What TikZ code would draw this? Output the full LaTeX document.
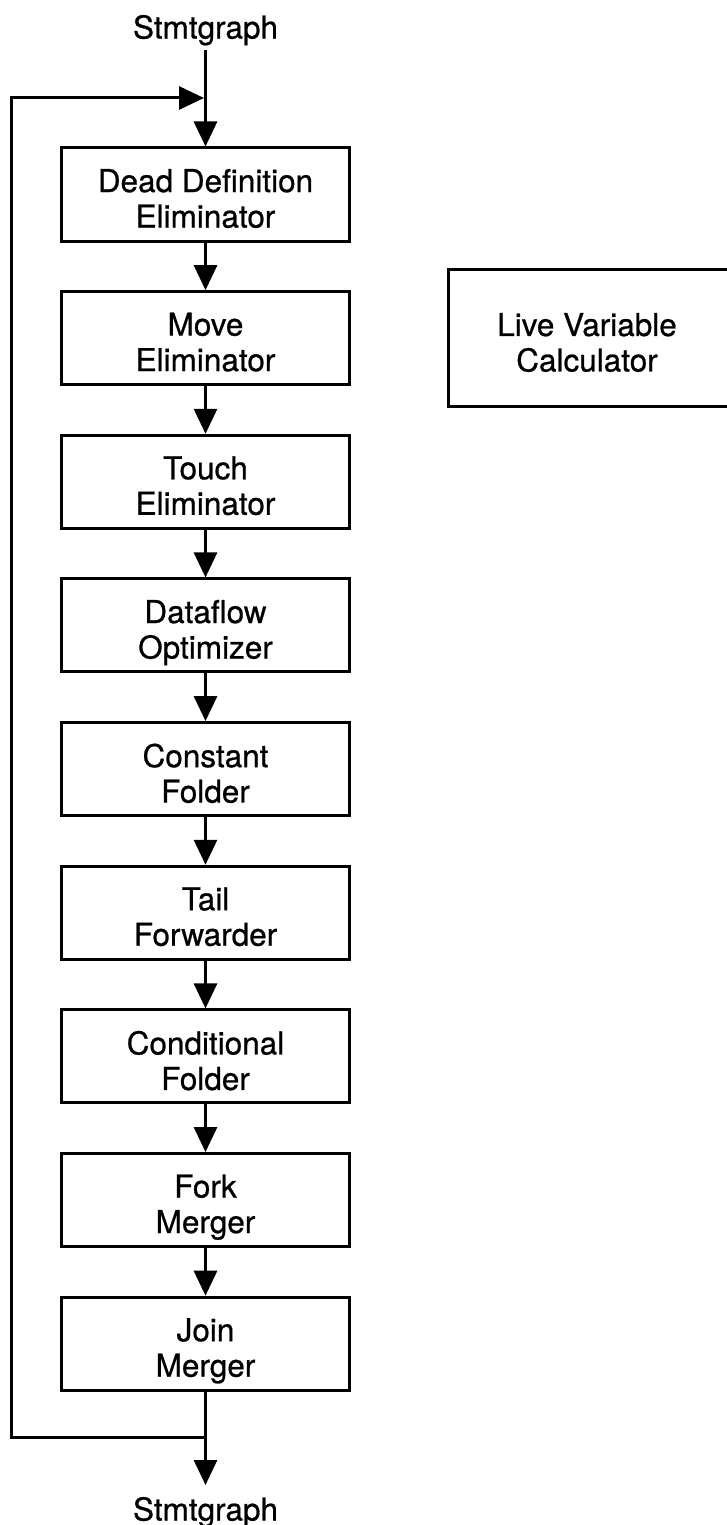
\documentclass[tikz,border=0pt]{standalone}
\usepackage{fontspec}
\setmainfont{TeX Gyre Heros}[BoldFont=TeX Gyre Heros, BoldFeatures={FakeBold=0.7}]
\usetikzlibrary{arrows.meta}
\begin{document}
\begin{tikzpicture}[x=1pt,y=-1pt,
  arr/.style={line width=3pt,-{Triangle[length=25pt,width=23pt]}},
  box/.style={draw,line width=3pt,minimum width=288pt,minimum height=93pt,inner sep=0pt},
  txt/.style={anchor=north,inner sep=0pt,outer sep=0pt,align=center,font=\fontsize{31.5}{35.5}\selectfont\bfseries},
]
\useasboundingbox (0,0) rectangle (727,1525);

\node[box] (b1) at (205.5,194.5) {};
\node[box] (b2) at (205.5,338.15) {};
\node[box] (b3) at (205.5,481.8) {};
\node[box] (b4) at (205.5,625.45) {};
\node[box] (b5) at (205.5,769.1) {};
\node[box] (b6) at (205.5,912.75) {};
\node[box] (b7) at (205.5,1056.4) {};
\node[box] (b8) at (205.5,1200.05) {};
\node[box] (b9) at (205.5,1343.7) {};

\node[txt] (t1) at ([yshift=25.5pt]b1.center) {Dead Definition\\Eliminator};
\node[txt] (t2) at ([yshift=25.5pt]b2.center) {Move\\Eliminator};
\node[txt] (t3) at ([yshift=25.5pt]b3.center) {Touch\\Eliminator};
\node[txt] (t4) at ([yshift=25.5pt]b4.center) {Dataflow\\Optimizer};
\node[txt] (t5) at ([yshift=25.5pt]b5.center) {Constant\\Folder};
\node[txt] (t6) at ([yshift=25.5pt]b6.center) {Tail\\Forwarder};
\node[txt] (t7) at ([yshift=25.5pt]b7.center) {Conditional\\Folder};
\node[txt] (t8) at ([yshift=25.5pt]b8.center) {Fork\\Merger};
\node[txt] (t9) at ([yshift=25.5pt]b9.center) {Join\\Merger};

\node[box,minimum width=282pt,minimum height=136.7pt] (lv) at (589,338.2) {};
\node[txt] (tlv) at (587,313) {Live Variable\\Calculator};

\node[txt,outer ysep=5pt] (in) at (205.5,10) {Stmtgraph};
\node[txt,outer ysep=12pt] (out) at (205.5,1485) {Stmtgraph};

\coordinate (jt) at (205.5,98);
\coordinate (jb) at (205.5,1437);
\coordinate (lx) at (11.5,0);

\draw[arr] (in.south) -- (b1.north);
\draw[arr] (b1) -- (b2);
\draw[arr] (b2) -- (b3);
\draw[arr] (b3) -- (b4);
\draw[arr] (b4) -- (b5);
\draw[arr] (b5) -- (b6);
\draw[arr] (b6) -- (b7);
\draw[arr] (b7) -- (b8);
\draw[arr] (b8) -- (b9);
\draw[arr] (b9.south) -- (out.north);
\draw[arr,shorten >=1.5pt] (jb) -- (jb -| lx) -- (jt -| lx) -- (jt);
\end{tikzpicture}
\end{document}
